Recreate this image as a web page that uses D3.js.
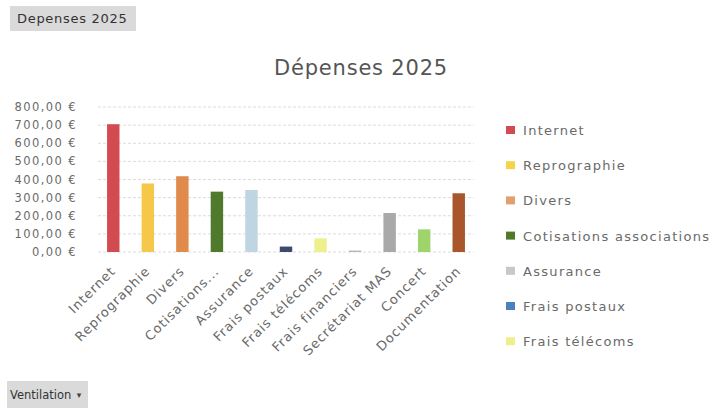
<!DOCTYPE html>
<html>
<head>
<meta charset="utf-8">
<script src="https://cdn.jsdelivr.net/npm/d3@7"></script>
<style>
  body { margin: 0; background: #fff; }
  svg { display: block; }
</style>
</head>
<body>
<script>
// chart values
const categories = ['Internet', 'Reprographie', 'Divers', 'Cotisations...', 'Assurance', 'Frais postaux',
  'Frais télécoms', 'Frais financiers', 'Secrétariat MAS', 'Concert', 'Documentation'];
const amounts = [705, 378, 418, 333, 342, 30, 75, 8, 215, 125, 324];
const colors = ['#d24b50', '#f5c84a', '#e08b4c', '#4f7a2c', '#bfd5e2', '#3d4c6c',
  '#eef08c', '#b8b8b8', '#a9a9a9', '#9fd46c', '#a9562c'];
const legendNames = ['Internet', 'Reprographie', 'Divers', 'Cotisations associations', 'Assurance',
  'Frais postaux', 'Frais télécoms'];
const legendColors = ['#d24b50', '#f5d44a', '#e0a070', '#4f7a2c', '#c8c8c8', '#4a80c0', '#eef08c'];
const yTicks = [0, 100, 200, 300, 400, 500, 600, 700, 800];

const width = 722;
const height = 418;
const textColor = '#6a6a6a';

const svg = d3.select('body')
  .append('svg')
  .attr('width', width)
  .attr('height', height)
  .style('font-family', '"DejaVu Sans", sans-serif');

// sheet tabs
svg.append('rect')
  .attr('x', 10).attr('y', 6).attr('width', 126).attr('height', 25)
  .attr('fill', '#dadada');
svg.append('text')
  .attr('x', 17).attr('y', 23)
  .attr('font-size', 13)
  .attr('letter-spacing', 0.7)
  .attr('fill', '#333')
  .text('Depenses 2025');

svg.append('rect')
  .attr('x', 7).attr('y', 381).attr('width', 81).attr('height', 27)
  .attr('fill', '#dadada');
svg.append('text')
  .attr('x', 10).attr('y', 399)
  .attr('font-size', 11.5)
  .attr('fill', '#333')
  .text('Ventilation');
svg.append('text')
  .attr('x', 79).attr('y', 398)
  .attr('font-size', 9)
  .attr('text-anchor', 'middle')
  .attr('fill', '#444')
  .text('▾');

// title
svg.append('text')
  .attr('x', 361).attr('y', 75)
  .attr('text-anchor', 'middle')
  .attr('font-size', 21)
  .attr('letter-spacing', 0.8)
  .attr('fill', '#555')
  .text('Dépenses 2025');

const x = d3.scaleBand()
  .domain(categories)
  .range([96, 476])
  .paddingInner(0.64)
  .paddingOuter(0.32);

const y = d3.scaleLinear()
  .domain([0, 800])
  .range([252, 107]);

// gridlines
svg.append('g')
  .selectAll('line')
  .data(yTicks)
  .enter()
  .append('line')
  .attr('x1', 98).attr('x2', 474)
  .attr('y1', d => y(d)).attr('y2', d => y(d))
  .attr('stroke', '#dcdcdc')
  .attr('stroke-dasharray', '3,2');

// y labels
svg.append('g')
  .selectAll('text')
  .data(yTicks)
  .enter()
  .append('text')
  .attr('x', 77)
  .attr('y', d => y(d) + 4)
  .attr('text-anchor', 'end')
  .attr('font-size', 11.5)
  .attr('letter-spacing', 1.4)
  .attr('fill', textColor)
  .text(d => d3.format(',.2f')(d).replace('.', ',') + ' €');

// bars
svg.append('g')
  .selectAll('rect')
  .data(amounts)
  .enter()
  .append('rect')
  .attr('x', (d, i) => x(categories[i]))
  .attr('y', d => y(d))
  .attr('width', x.bandwidth())
  .attr('height', d => y(0) - y(d))
  .attr('fill', (d, i) => colors[i]);

// category labels
svg.append('g')
  .selectAll('text')
  .data(categories)
  .enter()
  .append('text')
  .attr('transform', d => `translate(${x(d) + x.bandwidth() / 2 + 3}, 272) rotate(-45)`)
  .attr('text-anchor', 'end')
  .attr('font-size', 13)
  .attr('letter-spacing', 1)
  .attr('fill', textColor)
  .text(d => d);

// legend
const legend = svg.append('g')
  .selectAll('g')
  .data(legendNames)
  .enter()
  .append('g')
  .attr('transform', (d, i) => `translate(506, ${130 + i * 35.2})`);

legend.append('rect')
  .attr('x', 0).attr('y', -4)
  .attr('width', 9).attr('height', 8)
  .attr('fill', (d, i) => legendColors[i]);

legend.append('text')
  .attr('x', 17).attr('y', 5)
  .attr('font-size', 13)
  .attr('letter-spacing', 1.3)
  .attr('fill', textColor)
  .text(d => d);
</script>
</body>
</html>
